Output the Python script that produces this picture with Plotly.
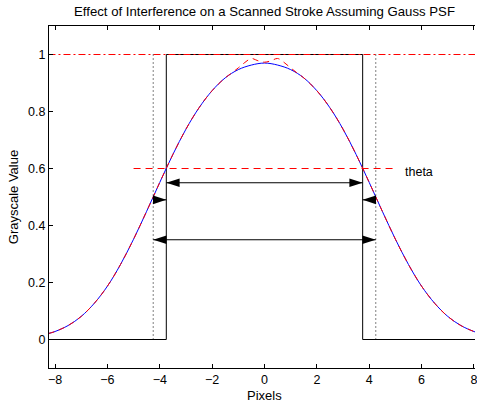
import plotly.graph_objects as go

# ---- data ----
curve_x = [-8.25, -8, -7.5, -7, -6.5, -6, -5.5, -5, -4.5, -4, -3.5, -3, -2.5, -2, -1.5, -1, -0.5, 0,
           0.5, 1, 1.5, 2, 2.5, 3, 3.5, 4, 4.5, 5, 5.5, 6, 6.5, 7, 7.5, 8, 8.25]
blue_y = [0.021, 0.028, 0.049, 0.081, 0.127, 0.187, 0.263, 0.352, 0.450, 0.551, 0.649, 0.738, 0.813,
          0.873, 0.918, 0.947, 0.963, 0.970,
          0.963, 0.947, 0.918, 0.873, 0.813, 0.738, 0.649, 0.551, 0.450, 0.352, 0.263, 0.187, 0.127,
          0.081, 0.049, 0.028, 0.021]

red_x = [-8.25, -8, -7.5, -7, -6.5, -6, -5.5, -5, -4.5, -4, -3.5, -3, -2.5, -2, -1.5, -1.25, -1, -0.75,
         -0.5, -0.25, 0, 0.25, 0.5, 0.75, 1, 1.25, 1.5, 2, 2.5, 3, 3.5, 4, 4.5, 5, 5.5, 6, 6.5, 7, 7.5,
         8, 8.25]
red_y = [0.021, 0.028, 0.049, 0.081, 0.127, 0.187, 0.263, 0.352, 0.450, 0.551, 0.649, 0.738, 0.813,
         0.873, 0.918, 0.935, 0.953, 0.972, 0.986, 0.978, 0.973, 0.978, 0.986, 0.972, 0.953, 0.935,
         0.918, 0.873, 0.813, 0.738, 0.649, 0.551, 0.450, 0.352, 0.263, 0.187, 0.127, 0.081, 0.049,
         0.028, 0.021]

step_x = [-8.25, -3.75, -3.75, 3.75, 3.75, 8.25]
step_y = [0, 0, 1, 1, 0, 0]

x_ends = [-8.25, 8.25]
full_level = 1.0
theta_level = 0.6
theta_x = [-5.0, 5.0]
true_edge = 4.25       # dotted lines
thr_edge = 3.75        # thresholded edges
span_levels = [0.55, 0.35]
span_halves = [thr_edge, true_edge]
inner_level = 0.49

x_ticks = [-8, -6, -4, -2, 0, 2, 4, 6, 8]
y_ticks = [0, 0.2, 0.4, 0.6, 0.8, 1]
y_tick_text = ["0", "0.2", "0.4", "0.6", "0.8", "1"]

FONT = "Liberation Sans, Arial, Helvetica, sans-serif"

fig = go.Figure()

# step (scanned stroke)
fig.add_trace(go.Scatter(x=step_x, y=step_y, mode="lines",
                         line=dict(color="black", width=1), hoverinfo="skip"))
# blue response
fig.add_trace(go.Scatter(x=curve_x, y=blue_y, mode="lines", line_shape="spline",
                         line=dict(color="#0000ff", width=1), hoverinfo="skip"))
# red dashed response
fig.add_trace(go.Scatter(x=red_x, y=red_y, mode="lines", line_shape="spline",
                         line=dict(color="#ff0000", width=1, dash="6px,5px"), hoverinfo="skip"))
# y = 1 dash-dot
fig.add_trace(go.Scatter(x=x_ends, y=[full_level, full_level], mode="lines",
                         line=dict(color="#ff0000", width=1, dash="7px,3px,2px,3px"), hoverinfo="skip"))
# theta line
fig.add_trace(go.Scatter(x=theta_x, y=[theta_level, theta_level], mode="lines",
                         line=dict(color="#ff0000", width=1, dash="7px,5px"), hoverinfo="skip"))
# dotted true edges
fig.add_trace(go.Scatter(x=[-true_edge, -true_edge, None, true_edge, true_edge],
                         y=[0, full_level, None, 0, full_level], mode="lines",
                         line=dict(color="black", width=1, dash="1px,3px"), hoverinfo="skip"))

# arrow shafts
sx, sy = [], []
for lvl, h in zip(span_levels, span_halves):
    sx += [-h, h, None]
    sy += [lvl, lvl, None]
sx += [-true_edge, -thr_edge, None, true_edge, thr_edge]
sy += [inner_level, inner_level, None, inner_level, inner_level]
fig.add_trace(go.Scatter(x=sx, y=sy, mode="lines", line=dict(color="black", width=1),
                         hoverinfo="skip"))

# arrow heads (tips at the data points)
hx, hy, ha = [], [], []
for lvl, h in zip(span_levels, span_halves):
    hx += [-h, h]
    hy += [lvl, lvl]
    ha += [-90, 90]
hx += [-thr_edge, thr_edge]
hy += [inner_level, inner_level]
ha += [90, -90]
fig.add_trace(go.Scatter(x=hx, y=hy, mode="markers",
                         marker=dict(symbol="arrow", size=14, angle=ha, color="black",
                                     line=dict(width=0)),
                         cliponaxis=False, hoverinfo="skip"))

fig.update_layout(
    width=477, height=404,
    margin=dict(l=49, r=0, t=26, b=36),
    paper_bgcolor="white", plot_bgcolor="white",
    showlegend=False,
    font=dict(family=FONT, size=12.5, color="black"),
    xaxis=dict(range=[-8.23, 8.04], tickvals=x_ticks, ticks="inside", ticklen=4,
               tickcolor="black", showline=True, linecolor="black", linewidth=1,
               mirror="ticks", showgrid=False, zeroline=False, ticklabeloverflow="allow",
               tickfont=dict(family=FONT, size=12.5, color="black")),
    yaxis=dict(range=[-0.1, 1.1], tickvals=y_ticks, ticktext=y_tick_text, ticks="inside",
               ticklen=4, tickcolor="black", showline=True, linecolor="black", linewidth=1,
               showgrid=False, zeroline=False,
               tickfont=dict(family=FONT, size=12.5, color="black")),
    annotations=[
        dict(text="Effect of Interference on a Scanned Stroke Assuming Gauss PSF",
             xref="paper", yref="paper", x=0.5063, y=1.0424, xanchor="center", yanchor="middle",
             showarrow=False, font=dict(family=FONT, size=13.2, color="black")),
        dict(text="Pixels", xref="paper", yref="paper", x=0.5063, y=-0.081,
             xanchor="center", yanchor="middle", showarrow=False,
             font=dict(family=FONT, size=13, color="black")),
        dict(text="Grayscale Value", xref="paper", yref="paper", x=-0.084, y=0.5,
             xanchor="center", yanchor="middle", textangle=-90, showarrow=False,
             font=dict(family=FONT, size=13, color="black")),
        dict(text="theta", xref="x", yref="y", x=5.3, y=0.586, xanchor="left",
             yanchor="middle", showarrow=False,
             font=dict(family=FONT, size=12.5, color="black")),
    ],
)

fig.write_html("out.html")
